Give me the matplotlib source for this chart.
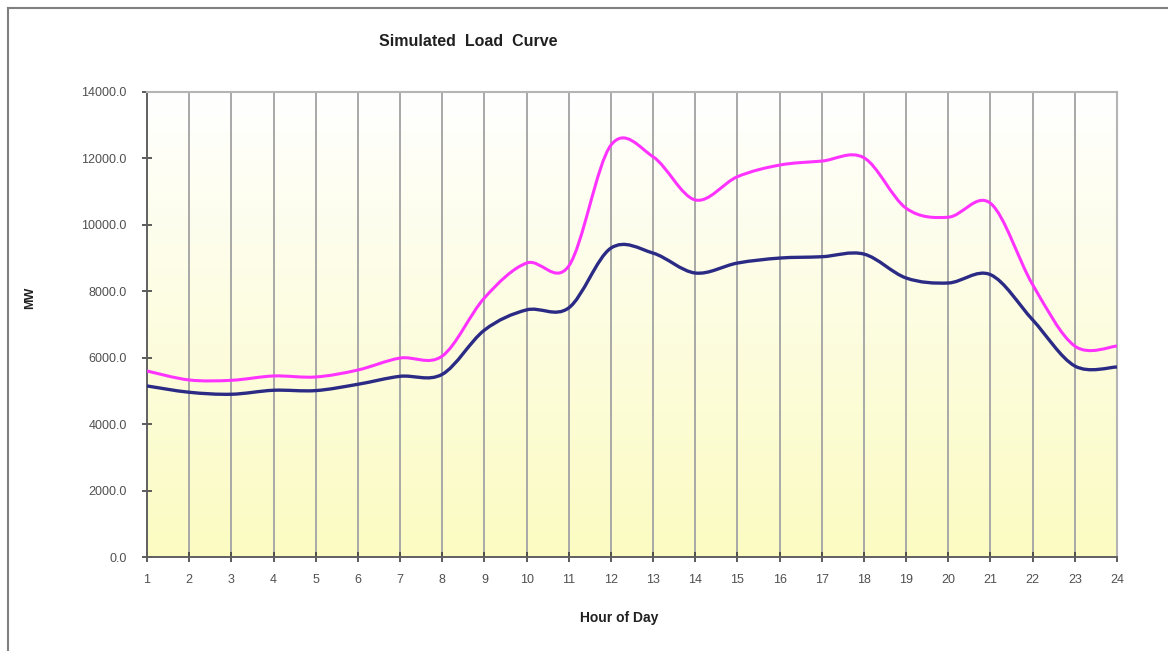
import numpy as np
import matplotlib
matplotlib.use("Agg")
import matplotlib.pyplot as plt
from matplotlib.path import Path
from matplotlib.patches import PathPatch
from matplotlib.lines import Line2D
from matplotlib.colors import LinearSegmentedColormap

plt.rcParams["font.family"] = ["Liberation Sans", "DejaVu Sans"]

hours = list(range(1, 25))
load_upper = [5600, 5330, 5320, 5450, 5420, 5630, 5990, 6050, 7800, 8850, 8760, 12400,
              12050, 10750, 11450, 11800, 11920, 12020, 10500, 10230, 10650, 8200, 6350, 6350]
load_lower = [5150, 4960, 4900, 5020, 5010, 5200, 5440, 5500, 6830, 7440, 7500, 9300,
              9150, 8550, 8850, 9000, 9040, 9120, 8400, 8250, 8500, 7140, 5750, 5720]
yticks = [0, 2000, 4000, 6000, 8000, 10000, 12000, 14000]


def smooth_path(x, y):
    # Excel-style smoothed line: Catmull-Rom segments as cubic Beziers
    x = np.asarray(x, float)
    y = np.asarray(y, float)
    n = len(x)
    verts = [(x[0], y[0])]
    codes = [Path.MOVETO]
    for i in range(n - 1):
        p0 = (x[max(i - 1, 0)], y[max(i - 1, 0)])
        p1 = (x[i], y[i])
        p2 = (x[i + 1], y[i + 1])
        p3 = (x[min(i + 2, n - 1)], y[min(i + 2, n - 1)])
        c1 = (p1[0] + (p2[0] - p0[0]) / 6, p1[1] + (p2[1] - p0[1]) / 6)
        c2 = (p2[0] - (p3[0] - p1[0]) / 6, p2[1] - (p3[1] - p1[1]) / 6)
        verts += [c1, c2, p2]
        codes += [Path.CURVE4] * 3
    return Path(verts, codes)


fig = plt.figure(figsize=(11.68, 6.51), dpi=100)
ax = fig.add_axes([147 / 1168, 1 - 557 / 651, 970 / 1168, 465 / 651])

# white-to-yellow gradient background
cmap = LinearSegmentedColormap.from_list("bg", ["#ffffff", "#fbfbc2"])
grad = np.linspace(0, 1, 256).reshape(-1, 1)
ax.imshow(grad, cmap=cmap, aspect="auto", extent=[0, 1, 0, 1],
          transform=ax.transAxes, zorder=0)

for h in hours[1:-1]:
    ax.axvline(h, color="#a8a8a8", lw=1.4, zorder=1)

ax.add_patch(PathPatch(smooth_path(hours, load_upper), facecolor="none",
                       edgecolor="#ff33ff", lw=2.2, zorder=3))
ax.add_patch(PathPatch(smooth_path(hours, load_lower), facecolor="none",
                       edgecolor="#2b2b86", lw=2.4, zorder=3))

ax.set_xlim(1, 24)
ax.set_ylim(0, 14000)
ax.set_xticks(hours)
ax.set_yticks(yticks)
ax.set_yticklabels([f"{v:.1f}" for v in yticks])
ax.tick_params(axis="both", direction="inout", length=7, width=1.2,
               color="#404040", labelsize=9, labelcolor="#505050")
ax.tick_params(axis="y", pad=11)
ax.tick_params(axis="x", pad=9)

for side in ["left", "bottom"]:
    ax.spines[side].set_color("#606060")
    ax.spines[side].set_linewidth(1.4)
for side in ["top", "right"]:
    ax.spines[side].set_color("#b4b4b4")
    ax.spines[side].set_linewidth(1.5)

fig.text(468 / 1168, 1 - 42 / 651, "Simulated  Load  Curve", ha="center", va="center",
         fontsize=11.5, fontweight="bold", color="#202020")
fig.text(30 / 1168, 1 - 298 / 651, "MW", ha="center", va="center", rotation=90,
         fontsize=9, fontweight="bold", color="#202020")
fig.text(619 / 1168, 1 - 618 / 651, "Hour of Day", ha="center", va="center",
         fontsize=10, fontweight="bold", color="#202020")

# outer chart frame (left and top visible)
fig.add_artist(Line2D([8 / 1168, 8 / 1168], [0, 1 - 8 / 651], color="#808080", lw=1.5))
fig.add_artist(Line2D([8 / 1168, 1], [1 - 8 / 651, 1 - 8 / 651], color="#808080", lw=1.5))

fig.savefig("out.png", dpi=100)
